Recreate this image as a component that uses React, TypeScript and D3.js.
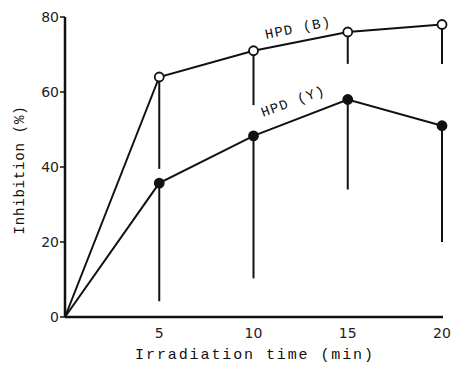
import React from 'react';
import { scaleLinear, line } from 'd3';

// irradiation times (min)
const times = [0, 5, 10, 15, 20];
// HPD (B) - open circles
const hpdB = [0, 64, 71, 76, 78];
const hpdBErr = [0, 24.5, 14.5, 8.5, 10.5];
// HPD (Y) - filled circles
const hpdY = [0, 35.7, 48.3, 58, 51];
const hpdYErr = [0, 31.5, 38, 24, 31];

const xTicks = [5, 10, 15, 20];
const yTicks = [0, 20, 40, 60, 80];

const mono = '"Liberation Mono", "DejaVu Sans Mono", monospace';
const sans = '"DejaVu Sans", sans-serif';

export default function App() {
    const width = 455, height = 366;
    const x = scaleLinear().domain([0, 20]).range([65, 442]);
    const y = scaleLinear().domain([0, 80]).range([317, 17]);

    const path = line<number>().x((d, i) => x(times[i])).y(d => y(d));

    const series = [
        { key: 'B', vals: hpdB, err: hpdBErr, fill: '#fff' },
        { key: 'Y', vals: hpdY, err: hpdYErr, fill: '#111' },
    ];

    return (
        <svg width={width} height={height} style={{ position: 'absolute', left: 0, top: 0, background: '#fff' }}>
            {/* axes */}
            <line x1={x(0)} x2={x(0)} y1={y(0)} y2={y(80)} stroke="#111" strokeWidth={2.5} />
            <line x1={x(0)} x2={x(20) + 1} y1={y(0)} y2={y(0)} stroke="#111" strokeWidth={2.5} />
            {yTicks.map(t => (
                <g key={t}>
                    <line x1={x(0) - 5} x2={x(0)} y1={y(t)} y2={y(t)} stroke="#111" strokeWidth={1.5} />
                    <text x={x(0) - 6} y={y(t)} dy="0.36em" textAnchor="end" fontFamily={sans} fontSize={14} fill="#222">{t}</text>
                </g>
            ))}
            {xTicks.map(t => (
                <text key={t} x={x(t)} y={y(0) + 21} textAnchor="middle" fontFamily={sans} fontSize={14} fill="#222">{t}</text>
            ))}
            <text x={255} y={359} textAnchor="middle" fontFamily={mono} fontSize={15} letterSpacing={1.9} fill="#111">Irradiation time (min)</text>
            <text transform={`translate(24,170) rotate(-90)`} textAnchor="middle" fontFamily={mono} fontSize={14} letterSpacing={0.8} fill="#111">Inhibition (%)</text>

            {/* error bars (lower half) */}
            {series.map(s => s.vals.map((v, i) => s.err[i] > 0 && (
                <line key={s.key + i} x1={x(times[i])} x2={x(times[i])} y1={y(v)} y2={y(v - s.err[i])} stroke="#111" strokeWidth={2} />
            )))}

            {/* lines */}
            {series.map(s => (
                <path key={s.key} d={path(s.vals) || ''} fill="none" stroke="#111" strokeWidth={2} />
            ))}
            {series.map(s => s.vals.map((v, i) => i > 0 && (
                <circle key={s.key + 'c' + i} cx={x(times[i])} cy={y(v)} r={4.5} fill={s.fill} stroke="#111" strokeWidth={1.8} />
            )))}

            {/* series labels */}
            <text transform={`translate(266,39) rotate(-11.5)`} fontFamily={mono} fontSize={14} letterSpacing={1.2} fill="#111">HPD (B)</text>
            <text transform={`translate(263,117) rotate(-20)`} fontFamily={mono} fontSize={14} letterSpacing={1.2} fill="#111">HPD (Y)</text>
        </svg>
    );
}
